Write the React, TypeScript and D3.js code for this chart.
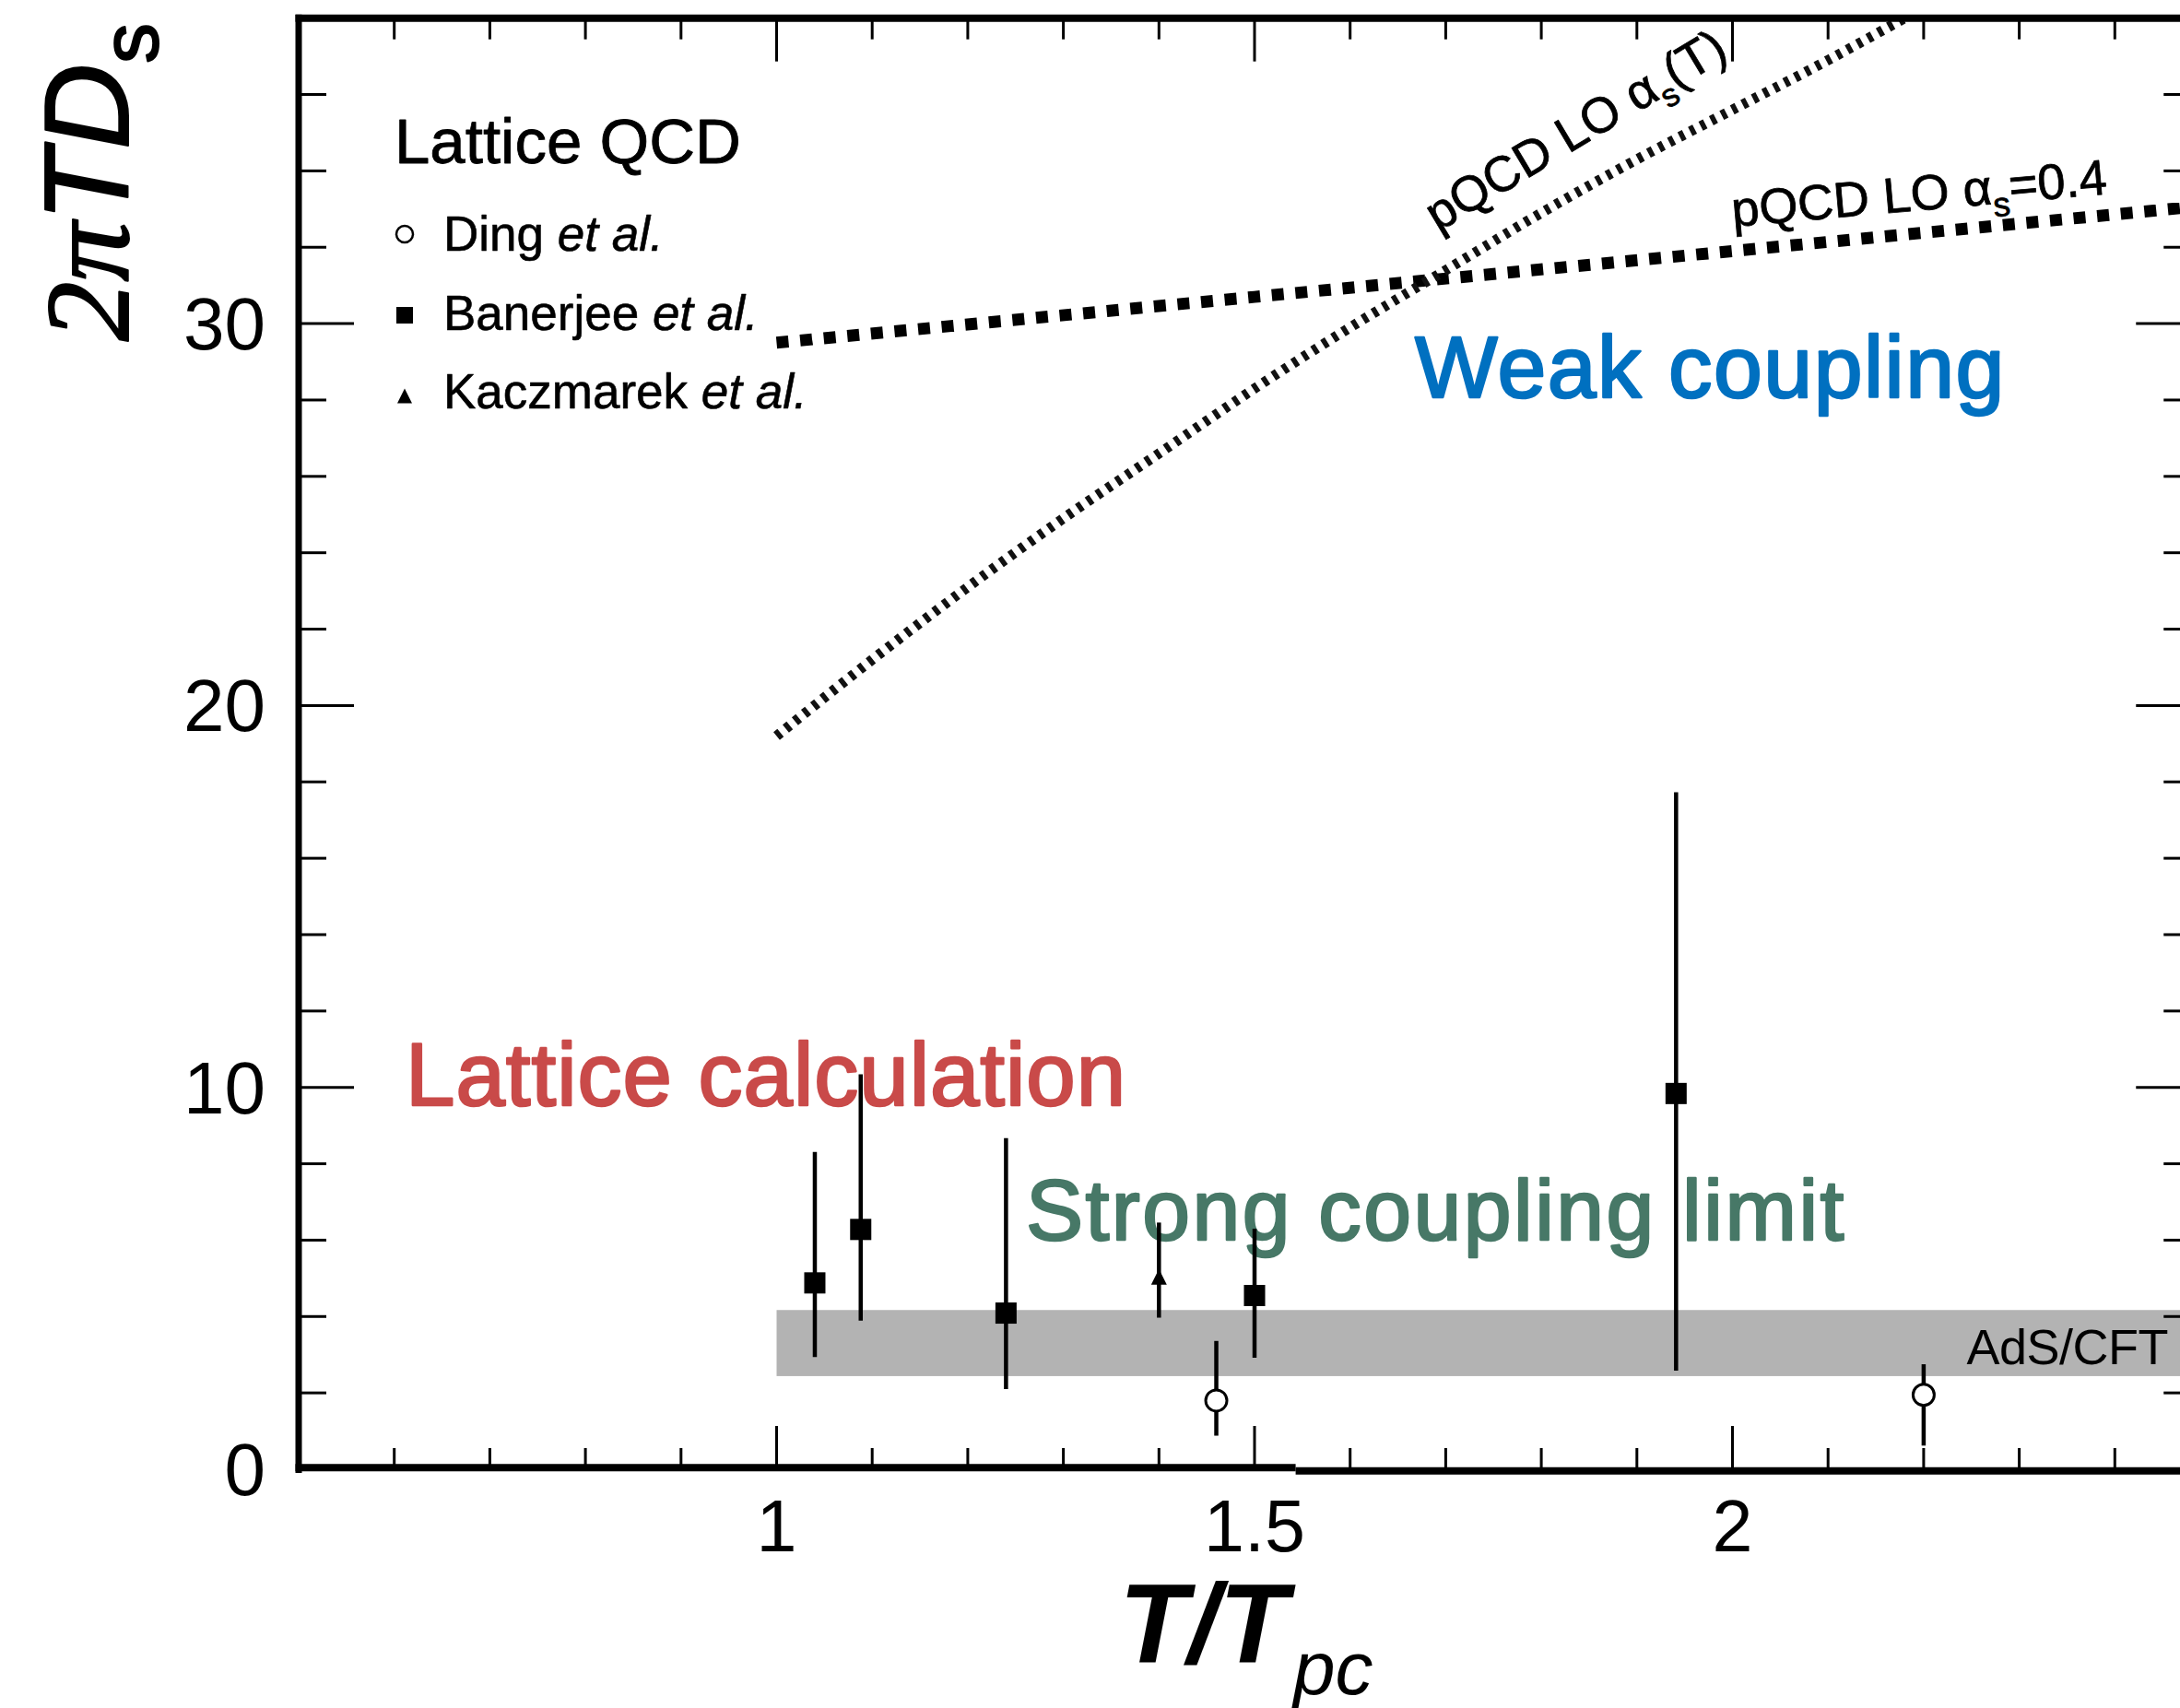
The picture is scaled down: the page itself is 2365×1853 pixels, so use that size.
import React from 'react';
import * as d3 from 'd3';

const W = 2365;
const H = 1853;

// ---------- axes ----------
const xDomain: [number, number] = [0.5, 2.48];
const yDomain: [number, number] = [0, 38];
const xMajorTicks = [1, 1.5, 2];
const xTickLabels = ['1', '1.5', '2'];
const xMinorTicks = [0.6, 0.7, 0.8, 0.9, 1.1, 1.2, 1.3, 1.4, 1.6, 1.7, 1.8, 1.9, 2.1, 2.2, 2.3, 2.4];
const yMajorTicks = [10, 20, 30];
const yLabelTicks = [0, 10, 20, 30];
const yMinorTicks = [2, 4, 6, 8, 12, 14, 16, 18, 22, 24, 26, 28, 32, 34, 36];

// ---------- data ----------
// Ding et al. (open circles)
const dingT = [1.46, 2.2];
const dingV = [1.8, 1.95];
const dingLo = [0.88, 0.62];
const dingHi = [3.36, 2.75];

// Banerjee et al. (filled squares)
const banT = [1.04, 1.088, 1.24, 1.5, 1.941];
const banV = [4.88, 6.28, 4.09, 4.55, 9.84];
const banLo = [2.94, 3.89, 2.1, 2.92, 2.58];
const banHi = [8.31, 10.34, 8.67, 6.3, 17.73];

// Kaczmarek et al. (triangle)
const kacT = [1.4];
const kacV = [5.0];
const kacLo = [3.97];
const kacHi = [6.46];

// AdS/CFT band
const adsFrom = 1.0;
const adsTo = 2.48;
const adsLo = 2.44;
const adsHi = 4.17;

// pQCD LO alpha_s = 0.4
const fixT = [1.0, 1.5, 2.0, 2.5];
const fixV = [29.5, 30.7, 31.9, 33.1];

// pQCD LO alpha_s(T)
const runT = [1.0, 1.1, 1.2, 1.3, 1.4, 1.5, 1.6, 1.7, 1.8, 1.9, 2.0, 2.1, 2.18];
const runV = [19.2, 21.2, 23.1, 24.9, 26.6, 28.3, 29.9, 31.4, 32.9, 34.3, 35.6, 36.9, 38.0];

// break of the bottom frame line in the original picture
const xFrameStep = 1.543;

const SANS = '"Liberation Sans", Arial, Helvetica, sans-serif';
const SERIF = '"Liberation Serif", "Times New Roman", serif';

export default function App() {
  const x = d3.scaleLinear().domain(xDomain).range([324, 324 + (xDomain[1] - xDomain[0]) * 1037]);
  const y = d3.scaleLinear().domain(yDomain).range([1594, 1594 - (yDomain[1] - yDomain[0]) * 41.43]);

  const x0 = x(xDomain[0]);
  const x1 = x(xDomain[1]);
  const yB = y(yDomain[0]);
  const yT = y(yDomain[1]);

  const line = d3
    .line<[number, number]>()
    .x((d) => x(d[0]))
    .y((d) => y(d[1]))
    .curve(d3.curveMonotoneX);

  const fixPts = fixT.map((t, i) => [t, fixV[i]] as [number, number]);
  const runPts = runT.map((t, i) => [t, runV[i]] as [number, number]);

  const tickW = 3;
  const xMinLen = 23;
  const xMajLen = 47;
  const yMinLen = 30;
  const yMajLen = 60;

  const xStep = x(xFrameStep);
  const stepOff = 3.5;

  const sq = 23;
  const circR = 11.5;

  const errBar = (t: number, lo: number, hi: number, k: string) => (
    <line key={k} x1={x(t)} x2={x(t)} y1={y(lo)} y2={y(hi)} stroke="#000" strokeWidth={4.5} />
  );

  const tri = (cx: number, cy: number, w: number, h: number) =>
    `M${cx},${cy - h * 0.6} L${cx + w / 2},${cy + h * 0.4} L${cx - w / 2},${cy + h * 0.4} Z`;

  const heavy = (c: string, w: number) => ({ stroke: c, strokeWidth: w, paintOrder: 'stroke' as const, strokeLinejoin: 'round' as const });

  return (
    <>
      <style>{`html,body{margin:0;padding:0;overflow:hidden;background:#fff}`}</style>
      <svg width={W} height={H} viewBox={`0 0 ${W} ${H}`} style={{ display: 'block' }}>
        <defs>
          <clipPath id="plot">
            <rect x={x0} y={yT} width={x1 - x0} height={yB - yT} />
          </clipPath>
        </defs>
        <rect x={0} y={0} width={W} height={H} fill="#fff" />

        {/* AdS/CFT band */}
        <rect
          x={x(adsFrom)}
          y={y(adsHi)}
          width={x(adsTo) - x(adsFrom)}
          height={y(adsLo) - y(adsHi)}
          fill="#b3b3b3"
        />
        <text x={2352} y={1480} fontFamily={SANS} fontSize={54} textAnchor="end" fill="#000" letterSpacing={-0.5}>
          AdS/CFT
        </text>

        {/* pQCD curves */}
        <g clipPath="url(#plot)">
          <path
            d={line(fixPts) || ''}
            fill="none"
            stroke="#000"
            strokeWidth={13}
            strokeDasharray="13 12.7"
          />
          <path
            d={line(runPts) || ''}
            fill="none"
            stroke="#111"
            strokeWidth={11}
            strokeDasharray="5.5 7.3"
          />
        </g>

        <text transform="translate(1560,252) rotate(-31)" fontFamily={SANS} fontSize={54} fill="#000" {...heavy('#000', 0.8)}>
          pQCD LO α<tspan dy={14} fontSize={35}>s</tspan>
          <tspan dy={-14}>(T)</tspan>
        </text>
        <text transform="translate(1880,246) rotate(-5)" fontFamily={SANS} fontSize={54} fill="#000" {...heavy('#000', 0.8)}>
          pQCD LO α<tspan dy={14} fontSize={37}>s</tspan>
          <tspan dy={-14}>=0.4</tspan>
        </text>

        {/* annotations */}
        <text x={1535} y={431} fontFamily={SANS} fontSize={95} fill="#0070C0" letterSpacing={1.5} {...heavy('#0070C0', 2.5)}>
          Weak coupling
        </text>
        <text x={440} y={1199} fontFamily={SANS} fontSize={96} fill="#C94A49" letterSpacing={1} {...heavy('#C94A49', 2.5)}>
          Lattice calculation
        </text>
        <text x={1113} y={1345} fontFamily={SANS} fontSize={93} fill="#477867" letterSpacing={2.5} {...heavy('#477867', 2.5)}>
          Strong coupling limit
        </text>

        {/* error bars */}
        {banT.map((t, i) => errBar(t, banLo[i], banHi[i], 'be' + i))}
        {dingT.map((t, i) => errBar(t, dingLo[i], dingHi[i], 'de' + i))}
        {kacT.map((t, i) => errBar(t, kacLo[i], kacHi[i], 'ke' + i))}

        {/* markers */}
        {banT.map((t, i) => (
          <rect key={'b' + i} x={x(t) - sq / 2} y={y(banV[i]) - sq / 2} width={sq} height={sq} fill="#000" />
        ))}
        {dingT.map((t, i) => (
          <circle key={'d' + i} cx={x(t)} cy={y(dingV[i])} r={circR} fill="#fff" stroke="#000" strokeWidth={3} />
        ))}
        {kacT.map((t, i) => (
          <path key={'k' + i} d={tri(x(t), y(kacV[i]), 17, 17)} fill="#000" />
        ))}

        {/* legend */}
        <text x={428} y={177} fontFamily={SANS} fontSize={69} fill="#000" {...heavy('#000', 0.8)}>
          Lattice QCD
        </text>
        <circle cx={439} cy={254} r={9} fill="#fff" stroke="#000" strokeWidth={2.5} />
        <text x={481} y={272} fontFamily={SANS} fontSize={53} fill="#000" {...heavy('#000', 0.6)}>
          Ding <tspan fontStyle="italic">et al.</tspan>
        </text>
        <rect x={430} y={333} width={18} height={18} fill="#000" />
        <text x={481} y={358} fontFamily={SANS} fontSize={53} fill="#000" {...heavy('#000', 0.6)}>
          Banerjee <tspan fontStyle="italic">et al.</tspan>
        </text>
        <path d={tri(439, 431, 16, 16)} fill="#000" />
        <text x={481} y={443} fontFamily={SANS} fontSize={53} fill="#000" {...heavy('#000', 0.6)}>
          Kaczmarek <tspan fontStyle="italic">et al.</tspan>
        </text>

        {/* frame */}
        <line x1={x0} x2={x0} y1={yT - 4} y2={yB + 4} stroke="#000" strokeWidth={7} />
        <line x1={x0 - 3.5} x2={x1 + 4} y1={yT} y2={yT} stroke="#000" strokeWidth={8} />
        <line x1={x1} x2={x1} y1={yT} y2={yB} stroke="#000" strokeWidth={7} />
        <line x1={x0 - 3.5} x2={xStep} y1={yB - stepOff / 2} y2={yB - stepOff / 2} stroke="#000" strokeWidth={8} />
        <line x1={xStep} x2={x1 + 4} y1={yB + stepOff / 2} y2={yB + stepOff / 2} stroke="#000" strokeWidth={8} />

        {/* x ticks bottom & top */}
        {xMinorTicks.map((t) => (
          <g key={'xm' + t}>
            <line x1={x(t)} x2={x(t)} y1={yB} y2={yB - xMinLen} stroke="#000" strokeWidth={tickW} />
            <line x1={x(t)} x2={x(t)} y1={yT} y2={yT + xMinLen} stroke="#000" strokeWidth={tickW} />
          </g>
        ))}
        {xMajorTicks.map((t) => (
          <g key={'xM' + t}>
            <line x1={x(t)} x2={x(t)} y1={yB} y2={yB - xMajLen} stroke="#000" strokeWidth={tickW} />
            <line x1={x(t)} x2={x(t)} y1={yT} y2={yT + xMajLen} stroke="#000" strokeWidth={tickW} />
          </g>
        ))}

        {/* y ticks left & right */}
        {yMinorTicks.map((v) => (
          <g key={'ym' + v}>
            <line x1={x0} x2={x0 + yMinLen} y1={y(v)} y2={y(v)} stroke="#000" strokeWidth={tickW} />
            <line x1={x1} x2={x1 - yMinLen} y1={y(v)} y2={y(v)} stroke="#000" strokeWidth={tickW} />
          </g>
        ))}
        {yMajorTicks.map((v) => (
          <g key={'yM' + v}>
            <line x1={x0} x2={x0 + yMajLen} y1={y(v)} y2={y(v)} stroke="#000" strokeWidth={tickW} />
            <line x1={x1} x2={x1 - yMajLen} y1={y(v)} y2={y(v)} stroke="#000" strokeWidth={tickW} />
          </g>
        ))}

        {/* tick labels */}
        {xMajorTicks.map((t, i) => (
          <text key={'xl' + t} x={x(t)} y={1683} fontFamily={SANS} fontSize={79} textAnchor="middle" fill="#000">
            {xTickLabels[i]}
          </text>
        ))}
        {yLabelTicks.map((v) => (
          <text key={'yl' + v} x={288} y={y(v) + 28} fontFamily={SANS} fontSize={80} textAnchor="end" fill="#000">
            {v}
          </text>
        ))}

        {/* axis titles */}
        <text x={1214} y={1804} fontFamily={SANS} fontSize={122} fontStyle="italic" fontWeight="bold" fill="#000">
          T/T
          <tspan dx={6} dy={34} fontSize={82} fontWeight="normal">
            pc
          </tspan>
        </text>
        <text transform="translate(139,370) rotate(-90)" fontSize={129} fill="#000" {...heavy('#000', 2)}>
          <tspan fontFamily={SERIF} fontStyle="italic">2π</tspan>
          <tspan fontFamily={SANS} fontStyle="italic">TD</tspan>
          <tspan fontFamily={SANS} fontSize={88} dy={32}>
            s
          </tspan>
        </text>
      </svg>
    </>
  );
}
